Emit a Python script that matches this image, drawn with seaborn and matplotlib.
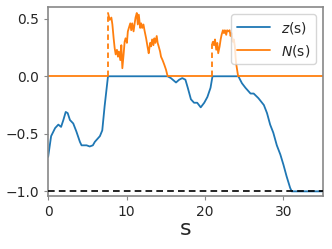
import numpy as np
import matplotlib
matplotlib.use("Agg")
import matplotlib.pyplot as plt
import seaborn as sns

# z(s) curve
z_s = [0.0, 0.38, 0.89, 1.3, 1.65, 1.94, 2.24, 2.49, 2.78, 3.2, 3.6, 4.05, 4.26, 4.9, 5.3, 5.7,
       5.95, 6.6, 6.9, 7.2, 7.63, 15.23, 15.65, 16.3, 16.7, 17.1, 17.5, 17.8, 18.2, 18.6, 19.0,
       19.45, 19.9, 20.3, 20.7, 20.95, 24.25, 24.7, 25.15, 25.8, 26.2, 26.8, 27.5, 27.9, 28.3,
       28.7, 29.15, 29.6, 30.0, 30.4, 30.85, 31.05, 35.0]
z_v = [-0.70, -0.52, -0.45, -0.42, -0.44, -0.38, -0.31, -0.32, -0.38, -0.41, -0.48, -0.57, -0.60,
       -0.60, -0.61, -0.60, -0.57, -0.52, -0.47, -0.26, 0.0, 0.0, -0.016, -0.054, -0.03, -0.016,
       -0.03, -0.10, -0.20, -0.23, -0.23, -0.27, -0.23, -0.18, -0.10, 0.0, 0.0, -0.06, -0.10, -0.15,
       -0.15, -0.19, -0.25, -0.32, -0.42, -0.49, -0.60, -0.68, -0.77, -0.87, -0.97, -1.0, -1.0]

# N(s) curve, pieces
n1_s = [7.63, 7.85, 8.06, 8.19, 8.35, 8.48, 8.61, 8.77, 8.9, 9.03, 9.2, 9.33, 9.46, 9.62, 9.75,
        9.87, 10.04, 10.16, 10.29, 10.47, 10.59, 10.72, 10.89, 11.01, 11.14, 11.3, 11.43, 11.56,
        11.73, 11.86, 11.99, 12.15, 12.28, 12.49, 12.7, 12.82, 13.0, 13.13, 13.25, 13.42, 13.54,
        13.67, 13.84, 13.96, 14.09, 14.27, 14.39, 14.59, 14.81, 15.03, 15.23]
n1_v = [0.55, 0.49, 0.51, 0.45, 0.33, 0.245, 0.19, 0.23, 0.17, 0.215, 0.14, 0.27, 0.07, 0.19, 0.30,
        0.33, 0.29, 0.39, 0.42, 0.46, 0.40, 0.46, 0.39, 0.45, 0.51, 0.55, 0.45, 0.535, 0.42, 0.46,
        0.42, 0.45, 0.40, 0.33, 0.245, 0.20, 0.29, 0.26, 0.32, 0.27, 0.33, 0.29, 0.35, 0.29, 0.26,
        0.215, 0.17, 0.14, 0.10, 0.056, 0.0]
n2_s = [20.95, 21.01, 21.14, 21.27, 21.43, 21.56, 21.68, 21.86, 21.99, 22.11, 22.28, 22.41, 22.53,
        22.7, 22.82, 22.95, 23.13, 23.25, 23.38, 23.54, 23.67, 23.8, 23.89, 23.96, 24.09, 24.22]
n2_v = [0.29, 0.30, 0.27, 0.32, 0.23, 0.29, 0.20, 0.26, 0.32, 0.36, 0.40, 0.375, 0.40, 0.36, 0.40,
        0.39, 0.40, 0.35, 0.375, 0.30, 0.32, 0.26, 0.17, 0.115, 0.056, 0.0]
n_zero_s = [0.0, 7.63, np.nan, 15.23, 20.95, np.nan, 24.22, 35.0]
n_zero_v = [0.0, 0.0, np.nan, 0.0, 0.0, np.nan, 0.0, 0.0]
jump_s = [7.63, 20.95]
jump_top = [0.55, 0.29]

sns.set_style("ticks")
plt.rcParams['font.family'] = ['DejaVu Sans']

fig = plt.figure(figsize=(3.32, 2.49), dpi=100)
ax = fig.add_axes([0.145, 0.213, 0.827, 0.758])

blue = "#1f77b4"
orange = "#ff7f0e"

sns.lineplot(x=z_s, y=z_v, ax=ax, color=blue, lw=1.3, label="$z$(s)", sort=False, estimator=None)
ax.plot(n_zero_s, n_zero_v, color=orange, lw=1.3, label="$N$(s)")
ax.plot(n1_s, n1_v, color=orange, lw=1.3)
ax.plot(n2_s, n2_v, color=orange, lw=1.3)
ax.vlines(jump_s, 0, jump_top, colors=orange, linestyles=(0, (3, 2)), lw=1.3)
ax.axhline(-1.0, color="black", ls=(0, (4, 2.5)), lw=1.2, zorder=3)

ax.set_xlim(0, 35)
ax.set_ylim(-1.04, 0.6)
ax.set_xticks([0, 10, 20, 30])
ax.set_yticks([-1.0, -0.5, 0.0, 0.5])
ax.set_xlabel("s", fontsize=16, labelpad=0)
ax.tick_params(labelsize=10, length=3, color="#888888")
for sp in ax.spines.values():
    sp.set_color("#888888")
    sp.set_linewidth(1.2)
    sp.set_visible(True)
leg = ax.legend(loc="upper right", fontsize=10, handlelength=2.4, frameon=True)
leg.get_frame().set_edgecolor("#cccccc")

fig.savefig("out.png", dpi=100)
